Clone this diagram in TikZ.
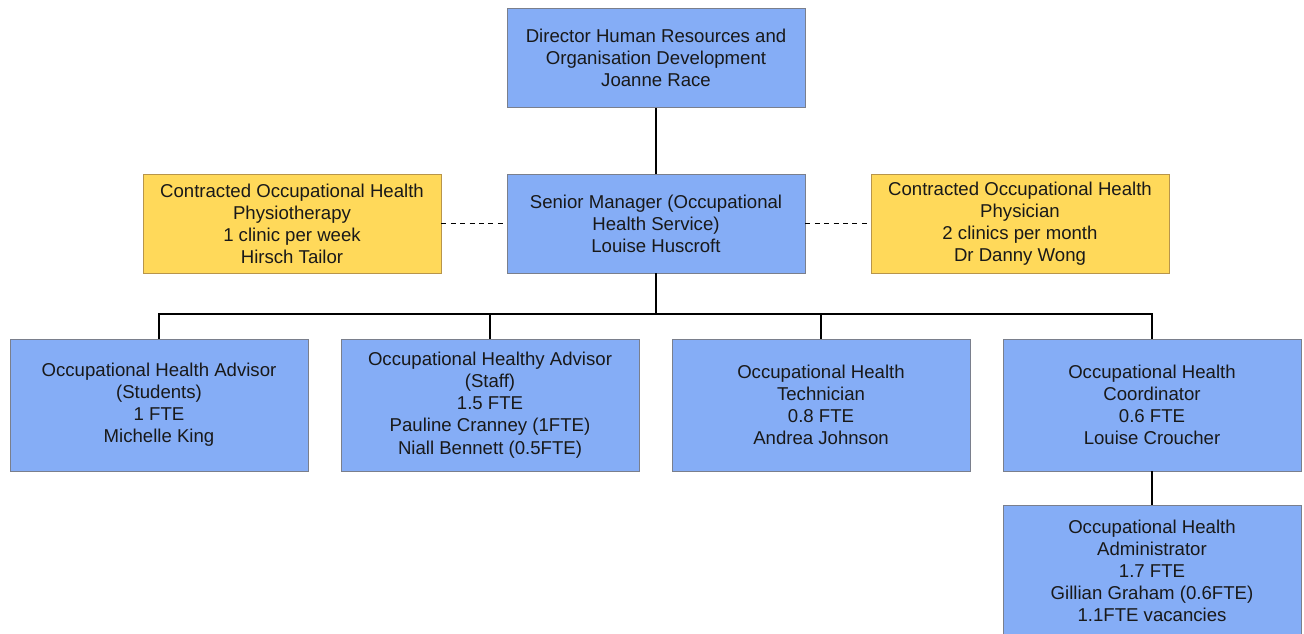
\documentclass[tikz,border=0pt]{standalone}
\usepackage{fontspec}
\setmainfont{Liberation Sans}
\definecolor{boxblue}{HTML}{85ADF6}
\definecolor{blueedge}{HTML}{7A7F8C}
\definecolor{boxyellow}{HTML}{FFD95A}
\definecolor{yellowedge}{HTML}{B8954A}
\begin{document}
\begin{tikzpicture}[x=1pt,y=-1pt,
  box/.style={rectangle, draw=blueedge, fill=boxblue, line width=0.9pt,
    minimum width=298pt, minimum height=99pt, inner sep=0pt, align=center,
    text=black!90, font=\fontsize{18.6}{22.1}\selectfont},
  ybox/.style={box, draw=yellowedge, fill=boxyellow},
  tallbox/.style={box, minimum height=132pt},
  link/.style={line width=1.4pt, black},
  dlink/.style={line width=1.4pt, black, dash pattern=on 5pt off 4.4pt}]
\useasboundingbox (0,0) rectangle (1304,633);
\fill[white] (0,0) rectangle (1304,633);
\node[box] (dir) at (656,58) {Director Human Resources and\\Organisation Development\\Joanne Race};
\node[box] (sm) at (656,223.5) {Senior Manager (Occupational\\Health Service)\\Louise Huscroft};
\node[ybox] (phys) at (292,223.5) {Contracted Occupational Health\\Physiotherapy\\1 clinic per week\\Hirsch Tailor};
\node[ybox] (doc) at (1020,223.5) {Contracted Occupational Health\\Physician\\2 clinics per month\\Dr Danny Wong};
\node[tallbox] (stu) at (159,405) {Occupational Health Advisor\\(Students)\\1 FTE\\Michelle King};
\node[tallbox] (staff) at (490,405) {Occupational Healthy Advisor\\(Staff)\\1.5 FTE\\Pauline Cranney (1FTE)\\Niall Bennett (0.5FTE)};
\node[tallbox] (tech) at (821,405) {Occupational Health\\Technician\\0.8 FTE\\Andrea Johnson};
\node[tallbox] (coord) at (1152,405) {Occupational Health\\Coordinator\\0.6 FTE\\Louise Croucher};
\node[tallbox] (adm) at (1152,571) {Occupational Health\\Administrator\\1.7 FTE\\Gillian Graham (0.6FTE)\\1.1FTE vacancies};
\coordinate (bus) at (656,314);
\draw[link] (dir.south) -- (sm.north);
\draw[dlink] (phys.east) -- (sm.west);
\draw[dlink] (sm.east) -- (doc.west);
\draw[link] (sm.south) -- (bus);
\draw[link] (stu.north) |- (bus) -| (coord.north);
\draw[link] (staff.north) -- (staff.north |- bus);
\draw[link] (tech.north) -- (tech.north |- bus);
\draw[link] (coord.south) -- (adm.north);
\end{tikzpicture}
\end{document}
